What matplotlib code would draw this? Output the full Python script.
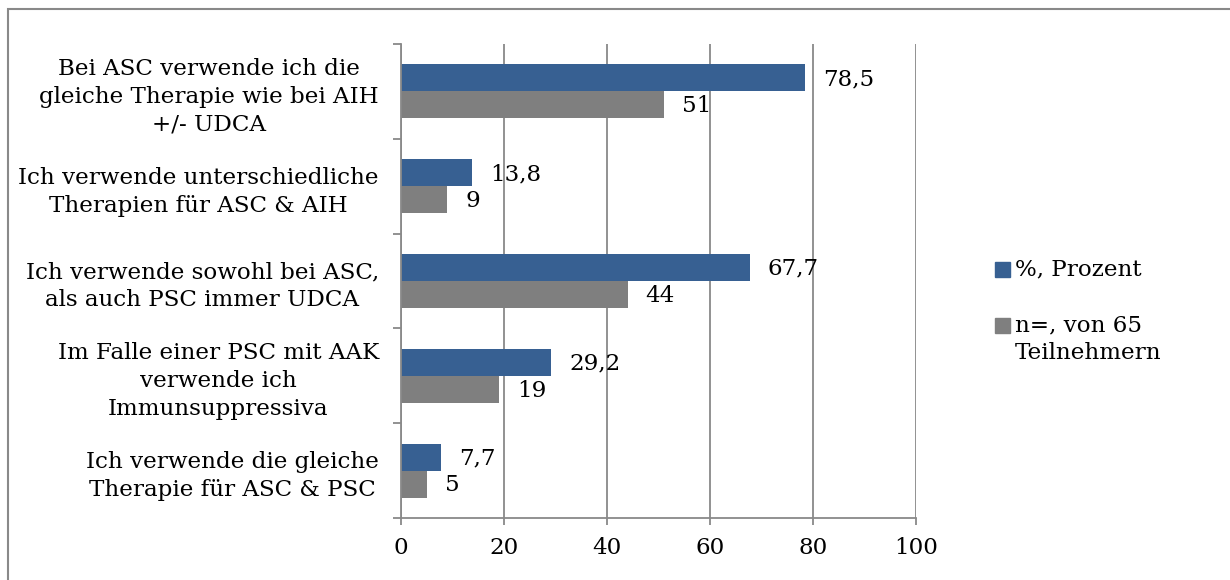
import numpy as np
import matplotlib.pyplot as plt
from matplotlib.patches import Rectangle

plt.rcParams['font.family'] = ['DejaVu Serif']

categories = [
    'Bei ASC verwende ich die\ngleiche Therapie wie bei AIH\n+/- UDCA',
    'Ich verwende unterschiedliche\nTherapien für ASC & AIH',
    'Ich verwende sowohl bei ASC,\nals auch PSC immer UDCA',
    'Im Falle einer PSC mit AAK\nverwende ich\nImmunsuppressiva',
    'Ich verwende die gleiche\nTherapie für ASC & PSC',
]
prozent = [78.5, 13.8, 67.7, 29.2, 7.7]
teilnehmer = [51, 9, 44, 19, 5]
series_names = ['%, Prozent', 'n=, von 65\nTeilnehmern']
xticks = [0, 20, 40, 60, 80, 100]

blue = '#376092'
grey = '#7f7f7f'
linegrey = '#898989'
fs = 16.6

fig = plt.figure(figsize=(12.3, 5.8), dpi=100)
ax = fig.add_axes([401 / 1230, 1 - 518 / 580, 515 / 1230, 474 / 580])

y = np.arange(len(categories))
h = 0.284
b1 = ax.barh(y - h / 2, prozent, height=h, color=blue, zorder=3)
b2 = ax.barh(y + h / 2, teilnehmer, height=h, color=grey, zorder=3)

def fmt(v):
    return f'{v:g}'.replace('.', ',')

for bars, vals in ((b1, prozent), (b2, teilnehmer)):
    for rect, v in zip(bars, vals):
        ax.annotate(fmt(v), (v, rect.get_y() + rect.get_height() / 2),
                    xytext=(13, -1), textcoords='offset points',
                    ha='left', va='center', fontsize=fs, zorder=4)

ax.set_xlim(0, 100)
ax.set_ylim(len(categories) - 0.5, -0.5)
ax.set_xticks(xticks)
ax.set_xticklabels([str(t) for t in xticks], fontsize=fs)
ax.set_yticks(np.arange(len(categories) + 1) - 0.5, minor=True)
ax.set_yticks(y)
ax.set_yticklabels(categories, fontsize=fs, multialignment='center', linespacing=1.35)
ax.tick_params(axis='y', which='major', length=0, pad=16)
ax.tick_params(axis='y', which='minor', length=6, width=1.3, color=linegrey, direction='out')
ax.tick_params(axis='x', length=5, width=1.3, color=linegrey, pad=9)

ax.grid(axis='x', color=linegrey, linewidth=1.3, zorder=1)
for side in ('top', 'right'):
    ax.spines[side].set_visible(False)
for side in ('left', 'bottom'):
    ax.spines[side].set_color(linegrey)
    ax.spines[side].set_linewidth(1.3)
    ax.spines[side].set_zorder(5)

# legend drawn by hand so the swatch sits on the first text line
for (x0, y0), col, name in zip(((995, 262), (995, 318)), (blue, grey), series_names):
    fig.patches.append(Rectangle((x0 / 1230, 1 - (y0 + 15) / 580), 15 / 1230, 15 / 580,
                                 transform=fig.transFigure, color=col))
    fig.text(1015 / 1230, 1 - (y0 - 4) / 580, name, fontsize=fs, ha='left', va='top',
             linespacing=1.35)

# outer chart frame
fig.patches.append(Rectangle((7.5 / 1230, -0.1), 1.2, 1.1 - 9.5 / 580,
                             transform=fig.transFigure, fill=False,
                             edgecolor=linegrey, linewidth=1.5))

fig.savefig('out.png', dpi=100)
